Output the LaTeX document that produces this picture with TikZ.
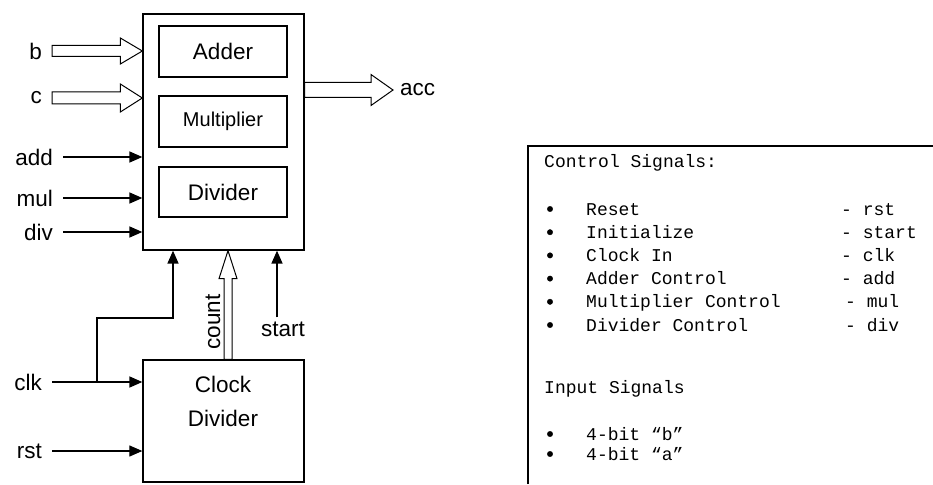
\documentclass[tikz,border=0pt]{standalone}
\usepackage{fontspec}
\setmainfont{Liberation Sans}
\newfontfamily\monofont{Liberation Mono}
\usetikzlibrary{arrows.meta}
\usetikzlibrary{calc}

% hollow bus arrow: start, tip, shaft half width, head half width, head length
\newcommand{\busarrow}[5]{%
	\coordinate (bh) at ($(#2)!#5!(#1)$);
	\draw[bus] ($(#1)!#3!90:(#2)$) -- ($(bh)!#3!-90:(#1)$) -- ($(bh)!#4!-90:(#1)$) -- (#2)
		-- ($(bh)!#4!90:(#1)$) -- ($(bh)!#3!90:(#1)$) -- ($(#1)!#3!-90:(#2)$) -- cycle;
}

\begin{document}
\begin{tikzpicture}[x=1pt, y=-1pt,
	every node/.style={font=\fontsize{22.5}{27}\selectfont},
	blk/.style={draw, line width=1.3pt, inner sep=0pt},
	lbl/.style={inner xsep=10pt, inner ysep=0pt, anchor=east},
	sig/.style={line width=1.6pt, -{Triangle[length=13pt,width=11pt]}},
	bus/.style={draw, fill=white, line width=1pt},
	mono/.style={font=\monofont\fontsize{18}{20}\selectfont, inner sep=0pt, anchor=base west}]

	\useasboundingbox (0,0) rectangle (933,484);

	% main unit with its three parts
	\node[blk, minimum width=161pt, minimum height=236pt] (main) at (223.5,132) {};
	\node[blk, minimum width=128pt, minimum height=51pt] (adder) at (223,51.5) {Adder};
	\node[blk, minimum width=128pt, minimum height=51pt, font=\fontsize{20}{24}\selectfont] (mult) at (223,121.5) {Multiplier};
	\node[blk, minimum width=128pt, minimum height=50pt] (divd) at (223,192) {Divider};

	% clock divider
	\node[blk, minimum width=161pt, minimum height=122pt] (clkdiv) at (223.5,421) {};
	\node[align=center, font=\fontsize{22.5}{34}\selectfont] (clkdivtxt) at (223,401) {Clock\\Divider};

	% inputs on the left
	\node[lbl] (b) at (52,51) {b};
	\node[lbl] (c) at (52,98) {c};
	\node[lbl] (add) at (63,157) {add};
	\node[lbl] (mul) at (63,198) {mul};
	\node[lbl] (div) at (63,232) {div};
	\node[lbl] (clk) at (52,382) {clk};
	\node[lbl] (rst) at (52,451) {rst};

	\coordinate (bin) at (b.east -| main.west);
	\coordinate (cin) at (c.east -| main.west);
	\busarrow{b.east}{bin}{5.5pt}{13pt}{22pt}
	\busarrow{c.east}{cin}{6pt}{14pt}{22pt}

	\draw[sig] (add) -- (add -| main.west);
	\draw[sig] (mul) -- (mul -| main.west);
	\draw[sig] (div) -- (div -| main.west);
	\draw[sig] (clk) -- (clk -| clkdiv.west);
	\draw[sig, line width=1.2pt] (rst) -- (rst -| clkdiv.west);

	% clock also goes up to the main unit
	\coordinate (clkj) at ($(clk.east)+(45,0)$);
	\coordinate (clkup) at (173,318);
	\draw[sig] (clkj) |- (clkup) -- (clkup |- main.south);

	% output
	\node[lbl, anchor=west, inner xsep=7pt] (acc) at (393,90) {acc};
	\coordinate (accout) at (main.east |- acc.west);
	\busarrow{accout}{acc.west}{7.5pt}{15.5pt}{22pt}

	% count bus and start
	\coordinate (cntfrom) at ([xshift=4.5pt]clkdiv.north);
	\coordinate (cntto) at (cntfrom |- main.south);
	\busarrow{cntfrom}{cntto}{4pt}{9pt}{28pt}
	\node[inner sep=0pt, rotate=90] (count) at (213,322) {count};

	\node[inner sep=0pt] (start) at (283,329) {start};
	\coordinate (stfrom) at ([shift={(-6pt,4pt)}]start.north);
	\draw[sig] (stfrom) -- (stfrom |- main.south);

	% legend
	\draw[line width=1.3pt] (528,484) |- (933,146);
	\node[mono] (ctlhead) at (544,167) {Control Signals:};
	\foreach \what/\sg/\dx [count=\i] in {Reset/rst/0, Initialize/start/0, Clock In/clk/0, Adder Control/add/0, Multiplier Control/mul/4, Divider Control/div/4}{
		\filldraw[black] (550,{209+(\i-1)*23.2}) circle (2.7pt);
		\node[mono] (ctl\i) at (586,{215+(\i-1)*23.2}) {\what};
		\node[mono] (abbr\i) at ({841+\dx},{215+(\i-1)*23.2}) {- \sg};
	}
	\node[mono] (inhead) at (544,393) {Input Signals};
	\filldraw[black] (550,434) circle (2.7pt);
	\node[mono] (in1) at (586,440) {4-bit “b”};
	\filldraw[black] (550,454) circle (2.7pt);
	\node[mono] (in2) at (586,460) {4-bit “a”};

\end{tikzpicture}
\end{document}
